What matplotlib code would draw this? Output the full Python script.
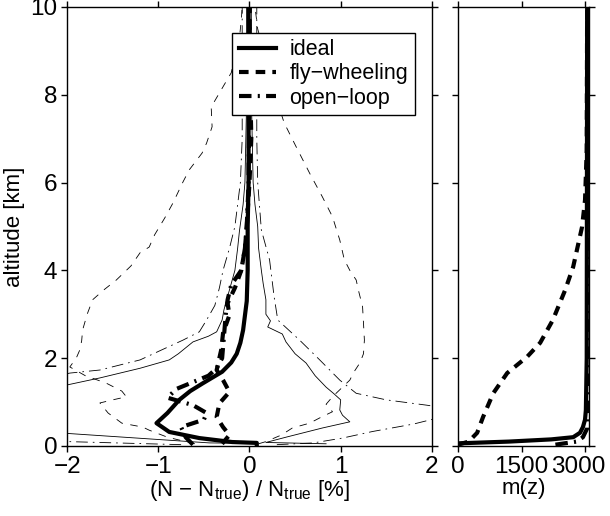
import numpy as np
import matplotlib
matplotlib.use("Agg")
import matplotlib.pyplot as plt
from matplotlib.transforms import ScaledTranslation

plt.rcParams['font.family'] = ['Liberation Sans', 'DejaVu Sans']
plt.rcParams['mathtext.fontset'] = 'custom'
plt.rcParams['mathtext.rm'] = 'Liberation Sans'
plt.rcParams['mathtext.it'] = 'Liberation Sans'
plt.rcParams['font.size'] = 16

# --- left panel: relative error profiles (x in %, z in km) ---
# ideal mean
z_id = [0.0, 0.07, 0.09, 0.18, 0.32, 0.52, 0.75, 1.05, 1.25, 1.43, 1.69, 1.9, 2.1, 2.35, 2.64, 3.3, 4.0, 5.0, 6.0, 8.0, 10.0]
x_id = [0.08, 0.08, -0.19, -0.55, -0.88, -1.02, -0.9, -0.77, -0.65, -0.51, -0.3, -0.2, -0.14, -0.1, -0.07, -0.03, -0.02, -0.02, -0.01, -0.01, -0.01]
# ideal +/- std
z_id_hi = [0.05, 0.08, 0.2, 0.41, 0.55, 0.7, 0.82, 1.05, 1.2, 1.34, 1.6, 1.89, 2.1, 2.37, 2.55, 2.71, 2.85, 3.0, 3.33, 3.7, 4.0, 4.5, 5.0, 5.5, 6.0, 7.0, 8.0, 10.0]
x_id_hi = [0.84, 0.18, 0.4, 0.8, 1.1, 1.02, 0.99, 1.0, 0.92, 0.84, 0.72, 0.62, 0.5, 0.4, 0.36, 0.2, 0.23, 0.18, 0.18, 0.15, 0.13, 0.1, 0.09, 0.06, 0.04, 0.03, 0.02, 0.02]
z_id_lo = [0.06, 0.07, 0.3, 0.5, 1.0, 1.3, 1.39, 1.55, 1.77, 1.96, 2.1, 2.37, 2.5, 2.6, 2.87, 3.1, 3.33, 3.7, 4.0, 4.5, 4.9, 5.5, 6.0, 7.0, 8.0, 10.0]
x_id_lo = [0.0, -0.44, -2.1, -3.0, -3.2, -2.6, -2.0, -1.64, -1.2, -0.88, -0.78, -0.62, -0.45, -0.36, -0.3, -0.28, -0.25, -0.2, -0.16, -0.13, -0.11, -0.07, -0.05, -0.04, -0.03, -0.03]

# fly-wheeling mean
z_fw = [0.05, 0.25, 0.43, 0.66, 0.97, 1.23, 1.5, 1.73, 2.19, 2.57, 2.98, 3.25, 3.6, 4.0, 4.5, 5.0, 6.0, 7.0, 8.0, 10.0]
x_fw = [-0.3, -0.22, -0.29, -0.36, -0.33, -0.22, -0.29, -0.36, -0.31, -0.29, -0.22, -0.24, -0.16, -0.09, -0.05, -0.03, 0.0, 0.02, 0.01, 0.0]
# fly-wheeling +/- std
z_fw_lo = [0.05, 0.2, 0.36, 0.43, 0.52, 0.75, 0.98, 1.05, 1.12, 1.25, 1.43, 1.6, 1.8, 2.0, 2.19, 2.4, 2.64, 3.0, 3.33, 3.55, 3.78, 4.1, 4.4, 4.53, 4.81, 5.19, 5.53, 6.01, 6.29, 6.67, 6.9, 7.27, 7.72, 8.5, 9.3, 9.7, 10.0]
x_fw_lo = [-0.6, -0.9, -1.1, -1.17, -1.4, -1.55, -1.64, -1.5, -1.35, -1.4, -1.57, -1.8, -1.97, -1.9, -1.86, -1.84, -1.83, -1.78, -1.72, -1.6, -1.46, -1.3, -1.2, -1.1, -1.04, -0.93, -0.84, -0.73, -0.66, -0.52, -0.47, -0.41, -0.42, -0.2, -0.11, -0.09, -0.08]
z_fw_hi = [0.05, 0.1, 0.25, 0.41, 0.52, 0.65, 0.78, 0.95, 1.12, 1.3, 1.5, 1.7, 1.89, 2.1, 2.41, 2.8, 3.17, 3.5, 3.78, 4.0, 4.24, 4.69, 5.22, 5.67, 6.21, 6.82, 7.36, 8.0, 8.8, 9.5, 10.0]
x_fw_hi = [0.1, 0.18, 0.35, 0.47, 0.66, 0.78, 0.91, 0.84, 0.91, 1.0, 1.1, 1.15, 1.21, 1.25, 1.26, 1.25, 1.24, 1.2, 1.17, 1.1, 1.04, 0.99, 0.91, 0.8, 0.66, 0.51, 0.38, 0.28, 0.18, 0.09, 0.06]

# open-loop mean
z_ol = [0.03, 0.2, 0.43, 0.6, 0.75, 0.93, 1.1, 1.3, 1.6, 1.77, 2.0, 2.5, 3.0, 3.33, 3.67, 4.0, 4.5, 5.0, 6.0, 8.0, 10.0]
x_ol = [-0.62, -0.7, -0.75, -0.5, -0.47, -0.62, -0.9, -0.8, -0.45, -0.36, -0.3, -0.28, -0.26, -0.24, -0.2, -0.09, -0.05, -0.03, -0.01, 0.0, 0.0]
# open-loop +/- std
z_ol_lo = [0.03, 0.1, 0.2, 1.0, 1.6, 1.66, 1.73, 1.96, 2.2, 2.41, 2.6, 2.87, 3.2, 3.6, 4.0, 4.5, 5.0, 6.0, 7.0, 8.0, 10.0]
x_ol_lo = [-0.75, -2.0, -3.0, -3.0, -2.1, -1.97, -1.64, -1.2, -0.95, -0.73, -0.55, -0.47, -0.38, -0.33, -0.29, -0.22, -0.16, -0.1, -0.08, -0.08, -0.08]
z_ol_hi = [0.03, 0.07, 0.18, 0.33, 0.5, 0.63, 0.75, 0.85, 0.93, 1.05, 1.2, 1.5, 1.96, 2.41, 2.87, 3.4, 4.24, 4.92, 6.0, 7.0, 8.0, 10.0]
x_ol_hi = [0.3, 0.7, 1.02, 1.35, 1.8, 2.05, 2.4, 2.2, 1.94, 1.5, 1.17, 0.99, 0.77, 0.55, 0.31, 0.27, 0.22, 0.13, 0.09, 0.08, 0.08, 0.08]

# --- right panel: m(z) ---
z_m_id = [0.06, 0.1, 0.15, 0.2, 0.3, 0.43, 0.6, 0.82, 2.0, 10.0]
m_id = [0, 1200, 2200, 2720, 2880, 2950, 3000, 3020, 3040, 3050]
z_m_fw = [0.03, 0.1, 0.3, 0.66, 1.2, 1.66, 2.03, 2.35, 2.87, 3.55, 4.08, 4.99, 5.6, 6.74, 10.0]
m_fw = [0, 250, 450, 590, 830, 1160, 1630, 1940, 2240, 2530, 2720, 2930, 3000, 3040, 3050]
z_m_ol = [0.03, 0.1, 0.2, 0.4, 10.0]
m_ol = [2300, 2800, 2950, 3050, 3060]

fig = plt.figure(figsize=(6.1, 5.16), dpi=100)
ax = fig.add_axes([0.110, 0.1357, 0.598, 0.851])
ax2 = fig.add_axes([0.751, 0.1357, 0.215, 0.851])

thick = 3.0
thin = 0.6
dash_thick = (0, (2.3, 1.7))
dashdot_thick = (0, (3.0, 1.5, 0.5, 1.5))
dash_thin = (0, (9, 9))
dashdot_thin = (0, (14, 6, 2, 6))

ax.plot(x_id, z_id, 'k-', lw=thick, label='ideal')
ax.plot(x_fw, z_fw, 'k', lw=thick, ls=dash_thick, label='fly\u2212wheeling')
ax.plot(x_ol, z_ol, 'k', lw=thick, ls=dashdot_thick, label='open\u2212loop')
ax.plot(x_id_lo, z_id_lo, 'k-', lw=thin)
ax.plot(x_id_hi, z_id_hi, 'k-', lw=thin)
ax.plot(x_fw_lo, z_fw_lo, 'k', lw=thin, ls=dash_thin)
ax.plot(x_fw_hi, z_fw_hi, 'k', lw=thin, ls=dash_thin)
ax.plot(x_ol_lo, z_ol_lo, 'k', lw=thin, ls=dashdot_thin)
ax.plot(x_ol_hi, z_ol_hi, 'k', lw=thin, ls=dashdot_thin)

ax.set_xlim(-2, 2)
ax.set_ylim(0, 10)
ax.set_xticks([-2, -1, 0, 1, 2])
ax.set_xticklabels(['\u22122', '\u22121', '0', '1', '2'])
ax.set_yticks([0, 2, 4, 6, 8, 10])
ax.set_xlabel(r'(N $-$ N$_{\rm true}$) / N$_{\rm true}$ [%]', labelpad=0)
ax.set_ylabel('altitude [km]', labelpad=4)
ax.tick_params(direction='out', length=4, width=1, top=True, right=True, labelsize=17.5, pad=3)

leg = ax.legend(loc='upper right', bbox_to_anchor=(0.953, 0.941), fontsize=15.5,
                handlelength=1.7, fancybox=False, framealpha=1, borderpad=0.3,
                labelspacing=0.15, handletextpad=0.65, borderaxespad=0)
leg.get_frame().set_edgecolor('k')
leg.get_frame().set_linewidth(1.0)

ax2.plot(m_id, z_m_id, 'k-', lw=thick)
ax2.plot(m_fw, z_m_fw, 'k', lw=thick, ls=dash_thick)
ax2.plot(m_ol, z_m_ol, 'k', lw=thick, ls=dashdot_thick)
ax2.set_xlim(0, 3100)
ax2.set_ylim(0, 10)
ax2.set_xticks([0, 1500, 3000])
ax2.set_yticks([0, 2, 4, 6, 8, 10])
ax2.set_yticklabels([])
ax2.set_xlabel('m(z)', labelpad=0)
ax2.tick_params(direction='out', length=4, width=1, top=True, right=True, labelsize=17.5, pad=3)

# nudge the last m(z) label left so it stays inside the figure
lab = ax2.get_xticklabels()[-1]
lab.set_transform(lab.get_transform() + ScaledTranslation(-0.07, 0, fig.dpi_scale_trans))

for a in (ax, ax2):
    for s in a.spines.values():
        s.set_linewidth(1.0)

fig.savefig('out.png', dpi=100)
